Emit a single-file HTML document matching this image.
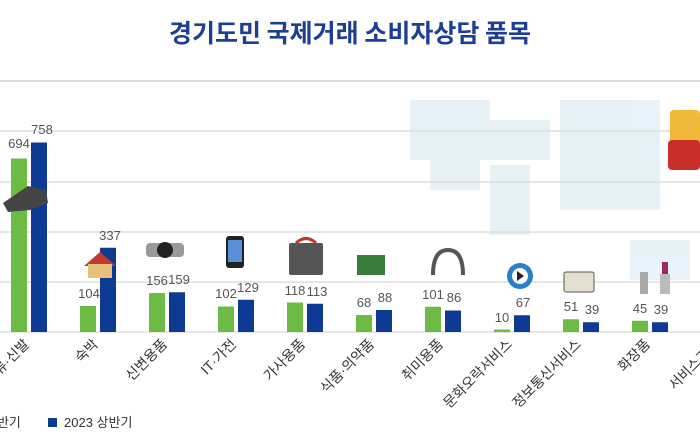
<!DOCTYPE html>
<html><head><meta charset="utf-8"><style>
body{margin:0;width:700px;height:440px;overflow:hidden;background:#fff;font-family:"Liberation Sans","Noto Sans CJK KR",sans-serif}
</style></head><body>
<svg width="700" height="440" xmlns="http://www.w3.org/2000/svg" font-family="Liberation Sans, Noto Sans CJK KR, sans-serif">
<text x="350" y="42" text-anchor="middle" font-size="25" font-weight="bold" fill="#1d3f91" font-family="Noto Sans CJK KR, sans-serif">경기도민 국제거래 소비자상담 품목</text>
<line x1="0" y1="81" x2="700" y2="81" stroke="#ddd" stroke-width="2"/>
<g fill="#e2eff6" opacity="0.8">
<rect x="410" y="100" width="80" height="60"/><rect x="490" y="120" width="60" height="40"/><rect x="560" y="100" width="100" height="110"/><rect x="430" y="160" width="50" height="30"/><rect x="490" y="165" width="40" height="70"/><rect x="630" y="240" width="60" height="40"/>
</g>
<g stroke="#ddd" stroke-width="1.5">
<line x1="0" y1="131" x2="700" y2="131"/><line x1="0" y1="182" x2="700" y2="182"/><line x1="0" y1="232" x2="700" y2="232"/><line x1="0" y1="282" x2="700" y2="282"/><line x1="0" y1="332" x2="700" y2="332"/>
</g>
<g>
<rect x="11" y="158.5" width="16" height="173.5" fill="#6cbb45"/><rect x="31" y="142.5" width="16" height="189.5" fill="#0d3b94"/>
<rect x="80" y="306" width="16" height="26" fill="#6cbb45"/><rect x="100" y="247.75" width="16" height="84.25" fill="#0d3b94"/>
<rect x="149" y="293" width="16" height="39" fill="#6cbb45"/><rect x="169" y="292.25" width="16" height="39.75" fill="#0d3b94"/>
<rect x="218" y="306.5" width="16" height="25.5" fill="#6cbb45"/><rect x="238" y="299.75" width="16" height="32.25" fill="#0d3b94"/>
<rect x="287" y="302.5" width="16" height="29.5" fill="#6cbb45"/><rect x="307" y="303.75" width="16" height="28.25" fill="#0d3b94"/>
<rect x="356" y="315" width="16" height="17" fill="#6cbb45"/><rect x="376" y="310" width="16" height="22" fill="#0d3b94"/>
<rect x="425" y="306.75" width="16" height="25.25" fill="#6cbb45"/><rect x="445" y="310.5" width="16" height="21.5" fill="#0d3b94"/>
<rect x="494" y="329.5" width="16" height="2.5" fill="#6cbb45"/><rect x="514" y="315.25" width="16" height="16.75" fill="#0d3b94"/>
<rect x="563" y="319.25" width="16" height="12.75" fill="#6cbb45"/><rect x="583" y="322.25" width="16" height="9.75" fill="#0d3b94"/>
<rect x="632" y="320.75" width="16" height="11.25" fill="#6cbb45"/><rect x="652" y="322.25" width="16" height="9.75" fill="#0d3b94"/>
</g>
<g font-size="13" fill="#555" text-anchor="middle">
<text x="19" y="148">694</text><text x="42" y="134">758</text>
<text x="89" y="298">104</text><text x="110" y="240">337</text>
<text x="157" y="285">156</text><text x="179" y="284">159</text>
<text x="226" y="298">102</text><text x="248" y="292">129</text>
<text x="295" y="295">118</text><text x="317" y="296">113</text>
<text x="364" y="307">68</text><text x="385" y="302">88</text>
<text x="433" y="299">101</text><text x="454" y="302">86</text>
<text x="502" y="322">10</text><text x="523" y="307">67</text>
<text x="571" y="311">51</text><text x="592" y="314">39</text>
<text x="640" y="313">45</text><text x="661" y="314">39</text>
</g>
<g font-size="14" fill="#333" text-anchor="end">
<text transform="translate(30,345) rotate(-45)">의류·신발</text>
<text transform="translate(99,345) rotate(-45)">숙박</text>
<text transform="translate(168,345) rotate(-45)">신변용품</text>
<text transform="translate(237,345) rotate(-45)">IT·가전</text>
<text transform="translate(306,345) rotate(-45)">가사용품</text>
<text transform="translate(375,345) rotate(-45)">식품·의약품</text>
<text transform="translate(444,345) rotate(-45)">취미용품</text>
<text transform="translate(513,345) rotate(-45)">문화오락서비스</text>
<text transform="translate(582,345) rotate(-45)">정보통신서비스</text>
<text transform="translate(651,345) rotate(-45)">화장품</text>
<text transform="translate(720,345) rotate(-45)">서비스기타</text>
</g>
<!-- icons -->
<path d="M3 203 L28 186 L46 190 L48 203 L30 210 L8 212 Z" fill="#444"/>
<path d="M84 266 L100 252 L116 266 Z" fill="#c0392b"/><rect x="88" y="264" width="24" height="14" fill="#e8c07a"/>
<rect x="146" y="243" width="38" height="14" rx="4" fill="#999"/><circle cx="165" cy="250" r="8" fill="#222"/>
<rect x="226" y="236" width="18" height="32" rx="3" fill="#222"/><rect x="228" y="240" width="14" height="22" fill="#5a8fd6"/>
<rect x="289" y="243" width="34" height="32" rx="2" fill="#555"/><path d="M296 243 Q306 234 316 243" stroke="#c0392b" stroke-width="3" fill="none"/>
<rect x="357" y="255" width="28" height="20" fill="#3a7d3a"/>
<path d="M433 275 Q433 250 448 250 Q463 250 463 275" stroke="#555" stroke-width="4" fill="none"/>
<circle cx="520" cy="276" r="13" fill="#2a7fc9"/><circle cx="520" cy="276" r="8" fill="#fff"/><path d="M517 271 L524 276 L517 281Z" fill="#222"/>
<rect x="564" y="272" width="30" height="20" rx="2" fill="#e5dfcf" stroke="#555"/>
<rect x="640" y="272" width="8" height="22" fill="#aaa"/><rect x="662" y="262" width="6" height="12" fill="#9c2b5c"/><rect x="660" y="274" width="10" height="20" fill="#bbb"/>
<rect x="670" y="110" width="30" height="40" rx="4" fill="#f0b93a"/><rect x="668" y="140" width="32" height="30" rx="4" fill="#c9302c"/>
<!-- legend -->
<text x="-15" y="427" font-size="13" fill="#333">상반기</text>
<rect x="48" y="418" width="9" height="9" fill="#0d3b94"/>
<text x="64" y="427" font-size="13" fill="#333">2023 상반기</text>
</svg>
</body></html>
